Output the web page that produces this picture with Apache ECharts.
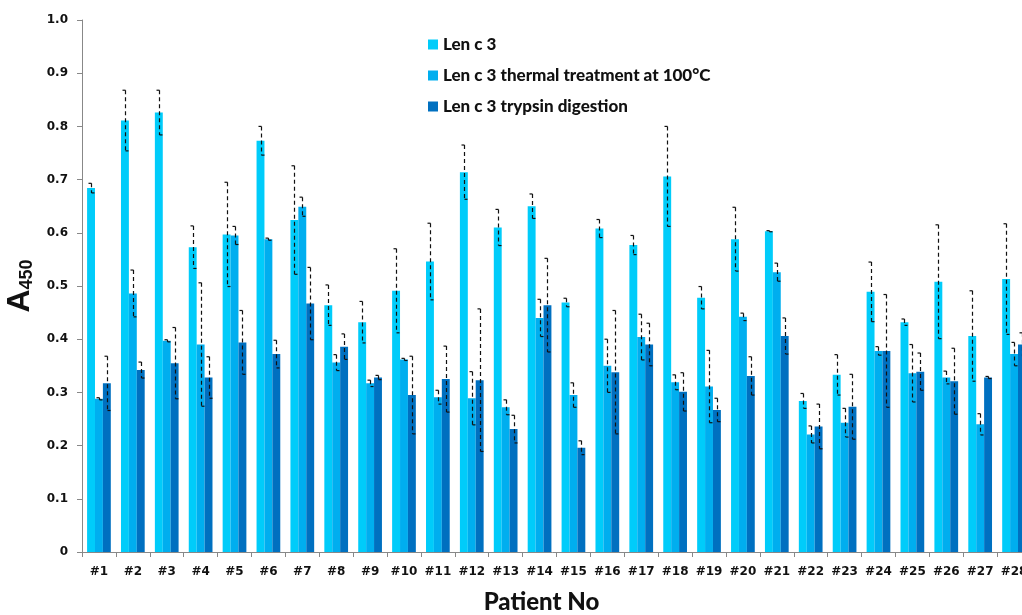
<!DOCTYPE html>
<html>
<head>
<meta charset="utf-8">
<script src="https://cdn.jsdelivr.net/npm/echarts@6/dist/echarts.min.js"></script>
<style>
  html, body { margin: 0; padding: 0; background: #fff; }
  #chart { width: 1022px; height: 615px; }
</style>
</head>
<body>
<div id="chart"></div>
<script>
// patients on the x axis
const patients = ['#1', '#2', '#3', '#4', '#5', '#6', '#7', '#8', '#9', '#10', '#11', '#12', '#13', '#14',
  '#15', '#16', '#17', '#18', '#19', '#20', '#21', '#22', '#23', '#24', '#25', '#26', '#27', '#28']

const yTicks = [0, 0.1, 0.2, 0.3, 0.4, 0.5, 0.6, 0.7, 0.8, 0.9, 1.0]

// A450 means and error (half-range)
const lenc3 = [0.684, 0.811, 0.826, 0.573, 0.597, 0.773, 0.624, 0.464, 0.432, 0.491, 0.546, 0.714, 0.610, 0.650,
  0.469, 0.608, 0.577, 0.706, 0.478, 0.588, 0.603, 0.284, 0.333, 0.489, 0.432, 0.508, 0.406, 0.513]
const lenc3Err = [0.009, 0.057, 0.042, 0.040, 0.098, 0.027, 0.102, 0.038, 0.039, 0.079, 0.072, 0.051, 0.034, 0.023,
  0.008, 0.017, 0.018, 0.094, 0.021, 0.060, 0.001, 0.014, 0.038, 0.056, 0.006, 0.107, 0.085, 0.104]

const thermal = [0.288, 0.486, 0.397, 0.390, 0.595, 0.588, 0.649, 0.356, 0.317, 0.362, 0.291, 0.289, 0.272, 0.440,
  0.295, 0.350, 0.404, 0.319, 0.311, 0.442, 0.526, 0.221, 0.243, 0.378, 0.336, 0.328, 0.240, 0.372]
const thermalErr = [0.002, 0.044, 0.002, 0.116, 0.017, 0.002, 0.018, 0.015, 0.006, 0.002, 0.013, 0.050, 0.014, 0.035,
  0.023, 0.050, 0.043, 0.014, 0.068, 0.007, 0.017, 0.016, 0.027, 0.008, 0.054, 0.012, 0.020, 0.022]

const trypsin = [0.317, 0.342, 0.355, 0.328, 0.394, 0.372, 0.467, 0.386, 0.328, 0.295, 0.325, 0.323, 0.231, 0.464,
  0.196, 0.338, 0.390, 0.301, 0.267, 0.331, 0.406, 0.236, 0.273, 0.378, 0.339, 0.321, 0.328, 0.390]
const trypsinErr = [0.051, 0.015, 0.067, 0.039, 0.060, 0.026, 0.068, 0.024, 0.004, 0.073, 0.062, 0.134, 0.026, 0.088,
  0.013, 0.116, 0.040, 0.036, 0.022, 0.036, 0.034, 0.042, 0.061, 0.106, 0.035, 0.062, 0.002, 0.022]

const seriesNames = ['Len c 3', 'Len c 3 thermal treatment at 100°C', 'Len c 3 trypsin digestion']
const colors = ['#00CCFA', '#00AEEF', '#0070C0']

const chart = echarts.init(document.getElementById('chart'))

const catGap = 0.3

// dashed error bar, top cap to the left and bottom cap to the right like the original
const errorSeries = (values, errs, idx) => ({
  type: 'custom',
  z: 5,
  silent: true,
  data: values.map((v, i) => [i, v, errs[i]]),
  encode: { x: 0, y: 1 },
  renderItem: (params, api) => {
    const band = api.size([1, 0])[0]
    const barW = band * (1 - catGap) / 3
    const center = api.coord([api.value(0), api.value(1)])
    const x = Math.round(center[0] + (idx - 1) * barW) + 0.5
    const hi = api.coord([api.value(0), api.value(1) + api.value(2)])[1]
    const lo = api.coord([api.value(0), api.value(1) - api.value(2)])[1]
    const cap = 3
    const style = { stroke: '#111', lineWidth: 1.2 }
    return {
      type: 'group',
      children: [
        { type: 'line', shape: { x1: x, y1: hi, x2: x, y2: lo }, style: { ...style, lineDash: [4, 3] } },
        { type: 'line', shape: { x1: x - cap, y1: hi, x2: x, y2: hi }, style },
        { type: 'line', shape: { x1: x, y1: lo, x2: x + cap, y2: lo }, style }
      ]
    }
  }
})

const barSeries = (name, values, color) => ({
  name,
  type: 'bar',
  data: values,
  barGap: '0%',
  barCategoryGap: (catGap * 100) + '%',
  itemStyle: { color }
})

const option = {
  animation: false,
  backgroundColor: '#fff',
  // the original figure is cropped on the right, so the grid runs past the edge
  grid: { left: 82, right: -9, top: 20, bottom: 63, containLabel: false, outerBoundsMode: 'none' },
  legend: {
    orient: 'vertical',
    left: 423,
    top: 31,
    itemWidth: 10,
    itemHeight: 10,
    itemGap: 14,
    icon: 'rect',
    data: seriesNames,
    textStyle: { fontFamily: 'Lato', fontWeight: 900, fontSize: 17, color: '#111' }
  },
  xAxis: {
    type: 'category',
    data: patients,
    name: 'Patient No',
    nameLocation: 'middle',
    nameGap: 38,
    nameTextStyle: { fontFamily: 'Lato', fontWeight: 900, fontSize: 24, color: '#111', padding: [0, 30, 0, 0] },
    axisLine: { lineStyle: { color: '#888', width: 1 } },
    axisTick: { show: true, length: 5, lineStyle: { color: '#888' } },
    axisLabel: { interval: 0, margin: 14, fontFamily: 'DejaVu Sans', fontWeight: 'bold', fontSize: 12, color: '#111' }
  },
  yAxis: {
    type: 'value',
    min: yTicks[0],
    max: yTicks[yTicks.length - 1],
    interval: 0.1,
    name: '{a|A}{s|450}',
    nameLocation: 'middle',
    nameGap: 32,
    nameRotate: 90,
    nameTextStyle: {
      rich: {
        a: { fontFamily: 'Liberation Sans', fontWeight: 'bold', fontSize: 32, color: '#111' },
        s: { fontFamily: 'Liberation Sans', fontWeight: 'bold', fontSize: 18, color: '#111', verticalAlign: 'bottom', padding: [14, 0, 0, 0] }
      }
    },
    axisLine: { show: true, lineStyle: { color: '#888', width: 1 } },
    axisTick: { show: true, length: 5, lineStyle: { color: '#888' } },
    splitLine: { show: false },
    axisLabel: {
      margin: 14,
      fontFamily: 'DejaVu Sans',
      fontWeight: 'bold',
      fontSize: 12,
      color: '#111',
      formatter: v => (v === 0 ? '0' : v.toFixed(1))
    }
  },
  series: [
    barSeries(seriesNames[0], lenc3, colors[0]),
    barSeries(seriesNames[1], thermal, colors[1]),
    barSeries(seriesNames[2], trypsin, colors[2]),
    errorSeries(lenc3, lenc3Err, 0),
    errorSeries(thermal, thermalErr, 1),
    errorSeries(trypsin, trypsinErr, 2)
  ]
}

chart.setOption(option)
</script>
</body>
</html>
